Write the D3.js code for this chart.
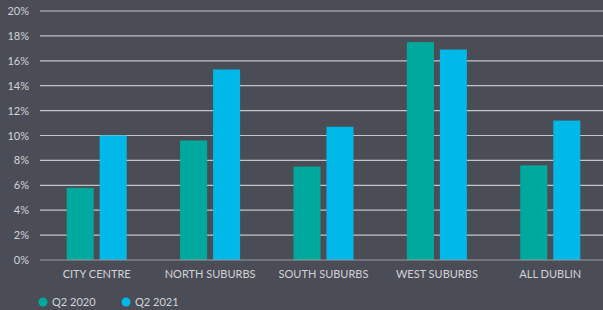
<!DOCTYPE html>
<html><head><meta charset="utf-8">
<script src="https://cdn.jsdelivr.net/npm/d3@7"></script>
<style>
html,body{margin:0;padding:0;background:#4a4d56;}
svg{display:block;}
text{font-family:Lato,"Open Sans",sans-serif;}
</style></head>
<body>
<svg id="c" width="603" height="310"></svg>
<script>
const categories = ["CITY CENTRE","NORTH SUBURBS","SOUTH SUBURBS","WEST SUBURBS","ALL DUBLIN"];
const seriesNames = ["Q2 2020","Q2 2021"];
const q2_2020 = [5.8, 9.6, 7.5, 17.5, 7.6];
const q2_2021 = [10.0, 15.3, 10.7, 16.9, 11.2];
const yTicks = [0,2,4,6,8,10,12,14,16,18,20];
const colors = ["#00a99d","#00b9e8"];

const svg = d3.select("#c");
const x = d3.scaleBand().domain(categories).range([40, 607]).paddingInner(0).paddingOuter(0);
const y = d3.scaleLinear().domain([0,20]).range([260, 11]);
const xs = d3.scaleBand().domain(seriesNames).range([0, 60]).paddingInner(0.18);

// gridlines
svg.append("g").selectAll("line").data(yTicks.filter(d=>d>0)).join("line")
  .attr("x1",40).attr("x2",603)
  .attr("y1",d=>y(d)).attr("y2",d=>y(d))
  .attr("stroke","#c4c5c8").attr("stroke-width",1.2);

// y labels
svg.append("g").selectAll("text").data(yTicks).join("text")
  .attr("x",29).attr("y",d=>y(d)+4)
  .attr("text-anchor","end").attr("fill","#d2d3d6").attr("font-size",11)
  .text(d=>d+"%");

// bars
const data = [q2_2020, q2_2021];
const g = svg.append("g");
categories.forEach((c,i)=>{
  seriesNames.forEach((s,j)=>{
    const cx = x(c) + x.bandwidth()/2 - 30 + xs(s);
    g.append("rect")
      .attr("x", cx).attr("width", xs.bandwidth())
      .attr("y", y(data[j][i])).attr("height", y(0)-y(data[j][i]))
      .attr("fill", colors[j]);
  });
});

// zero line
svg.append("line").attr("x1",40).attr("x2",603).attr("y1",y(0)).attr("y2",y(0))
  .attr("stroke","#9a9ba0").attr("stroke-width",1.2);

// x labels
svg.append("g").selectAll("text").data(categories).join("text")
  .attr("x",d=>x(d)+x.bandwidth()/2).attr("y",278)
  .attr("text-anchor","middle").attr("fill","#d2d3d6").attr("font-size",11)
  .text(d=>d);

// legend
const leg = svg.append("g");
const lx = [43, 126];
seriesNames.forEach((s,j)=>{
  leg.append("circle").attr("cx",lx[j]).attr("cy",302).attr("r",4.5).attr("fill",colors[j]);
  leg.append("text").attr("x",lx[j]+9).attr("y",306).attr("fill","#d2d3d6").attr("font-size",11).text(s);
});
</script>
</body></html>
